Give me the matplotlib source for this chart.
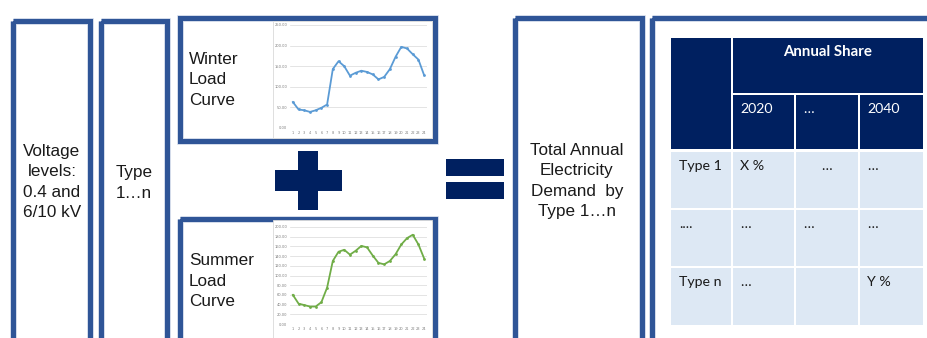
import matplotlib.pyplot as plt
from matplotlib.patches import Rectangle

# hourly load profiles (hours 1-24)
hours = list(range(1, 25))
winter_load = [63, 45, 43, 39, 43, 49, 57, 143, 162, 150, 127, 134,
               139, 136, 130, 118, 124, 143, 173, 197, 193, 179, 166, 128]
summer_load = [60, 42, 39, 36, 36, 45, 75, 130, 149, 153, 143, 151,
               161, 158, 141, 126, 123, 130, 144, 164, 177, 184, 164, 135]

# annual share table
share_title = "Annual Share"
share_years = ["2020", "…", "2040"]
share_rows = ["Type 1", "....", "Type n"]
share_cells = [["X %", "…", "…"],
               ["…", "…", "…"],
               ["…", "", "Y %"]]

W, H = 928, 338
BLUE = "#2F5597"
NAVY = "#002060"
LIGHT = "#DDE8F4"

fig = plt.figure(figsize=(W / 100, H / 100), dpi=100)
ax = fig.add_axes([0, 0, 1, 1])
ax.set_xlim(0, W)
ax.set_ylim(H, 0)
ax.axis("off")


def frame(l, t, r, b, lw=5):
    ax.add_patch(Rectangle((l + lw / 2, t + lw / 2), r - l - lw, b - t - lw,
                           fill=False, edgecolor="#C5D0E4", lw=(lw + 1.5) * 0.72))
    ax.add_patch(Rectangle((l + lw / 2, t + lw / 2), r - l - lw, b - t - lw,
                           fill=False, edgecolor=BLUE, lw=lw * 0.72))


def block(l, t, r, b):
    ax.add_patch(Rectangle((l, t), r - l, b - t, facecolor=NAVY, lw=0))


# outer boxes
frame(11, 18, 93, 350)
frame(99, 18, 170, 350)
frame(178, 15, 438, 143)
frame(178, 216, 438, 350)
frame(513, 15, 645, 350)
frame(650, 15, 940, 350)

txt = dict(family="Liberation Sans", fontsize=12.3, color="#1a1a1a", linespacing=1.42)
ax.text(52, 182, "Voltage\nlevels:\n0.4 and\n6/10 kV", ha="center", va="center",
        multialignment="center", **txt)
ax.text(134, 183, "Type\n1…n", ha="center", va="center", multialignment="center", **txt)
ax.text(189, 80, "Winter\nLoad\nCurve", ha="left", va="center", **txt)
ax.text(189, 281, "Summer\nLoad\nCurve", ha="left", va="center", **txt)
ax.text(577, 181, "Total Annual\nElectricity\nDemand  by\nType 1…n", ha="center",
        va="center", multialignment="center", **txt)

# plus and equals signs
block(298, 151, 318, 210)
block(275, 170, 342, 191)
block(446, 159, 504, 176)
block(446, 182, 504, 199)

# chart areas behind the load curves
for top, bot in [(21, 138), (220, 345)]:
    ax.add_patch(Rectangle((273, top), 159, bot - top, facecolor="white",
                           edgecolor="#D9D9D9", lw=0.6))


def load_chart(l, t, r, b, values, color, ymax, step):
    cax = fig.add_axes([l / W, 1 - b / H, (r - l) / W, (b - t) / H])
    cax.plot(hours, values, color=color, lw=1.3, marker="o", ms=2,
             markeredgewidth=0)
    cax.set_xlim(0.5, 24.5)
    cax.set_ylim(0, ymax)
    cax.set_yticks(range(0, ymax + 1, step))
    cax.set_yticklabels([f"{v:.2f}" for v in range(0, ymax + 1, step)])
    cax.set_xticks(hours)
    cax.grid(axis="y", color="#D9D9D9", lw=0.5)
    cax.set_axisbelow(True)
    for s in cax.spines.values():
        s.set_visible(False)
    cax.tick_params(length=0, labelsize=2.6, labelcolor="#7F7F7F", pad=2)
    cax.set_facecolor("none")


load_chart(290, 25, 427, 128, winter_load, "#5B9BD5", 250, 50)
load_chart(290, 227, 427, 324, summer_load, "#70AD47", 200, 20)

# annual share table
col_x = [671, 733, 796, 860, 923]
hdr_y = [38, 95, 149]
row_y = [152, 210, 268, 325]
gap = 2
tfont = dict(family="Lato", fontsize=10.2)

ax.add_patch(Rectangle((col_x[0], hdr_y[0]), col_x[1] - gap - col_x[0],
                       hdr_y[2] - hdr_y[0], facecolor=NAVY, lw=0))
ax.add_patch(Rectangle((col_x[1], hdr_y[0]), col_x[4] - col_x[1],
                       hdr_y[1] - gap - hdr_y[0], facecolor=NAVY, lw=0))
ax.text((col_x[1] + col_x[4]) / 2, 52, share_title, ha="center", va="center",
        color="white", fontweight="bold", family="Lato", fontsize=10.8)
for j, year in enumerate(share_years):
    x0, x1 = col_x[j + 1], col_x[j + 2] - (gap if j < 2 else 0)
    ax.add_patch(Rectangle((x0, hdr_y[1]), x1 - x0, hdr_y[2] - hdr_y[1],
                           facecolor=NAVY, lw=0))
    ax.text(x0 + 7, hdr_y[1] + 18, year, ha="left", va="baseline",
            color="white", **tfont)

for i, label in enumerate(share_rows):
    y0, y1 = row_y[i], row_y[i + 1] - (gap if i < 2 else 0)
    for j in range(4):
        x0, x1 = col_x[j], col_x[j + 1] - (gap if j < 3 else 0)
        ax.add_patch(Rectangle((x0, y0), x1 - x0, y1 - y0, facecolor=LIGHT, lw=0))
    ax.text(col_x[0] + 8, y0 + 17.5, label, ha="left", va="baseline",
            color="#1a1a1a", **tfont)
    for j, val in enumerate(share_cells[i]):
        if i == 0 and j == 1:
            ax.text((col_x[2] + col_x[3]) / 2 - 1, y0 + 17.5, val, ha="center",
                    va="baseline", color="#1a1a1a", **tfont)
        else:
            ax.text(col_x[j + 1] + 7, y0 + 17.5, val, ha="left", va="baseline",
                    color="#1a1a1a", **tfont)

fig.savefig("out.png", dpi=100)
